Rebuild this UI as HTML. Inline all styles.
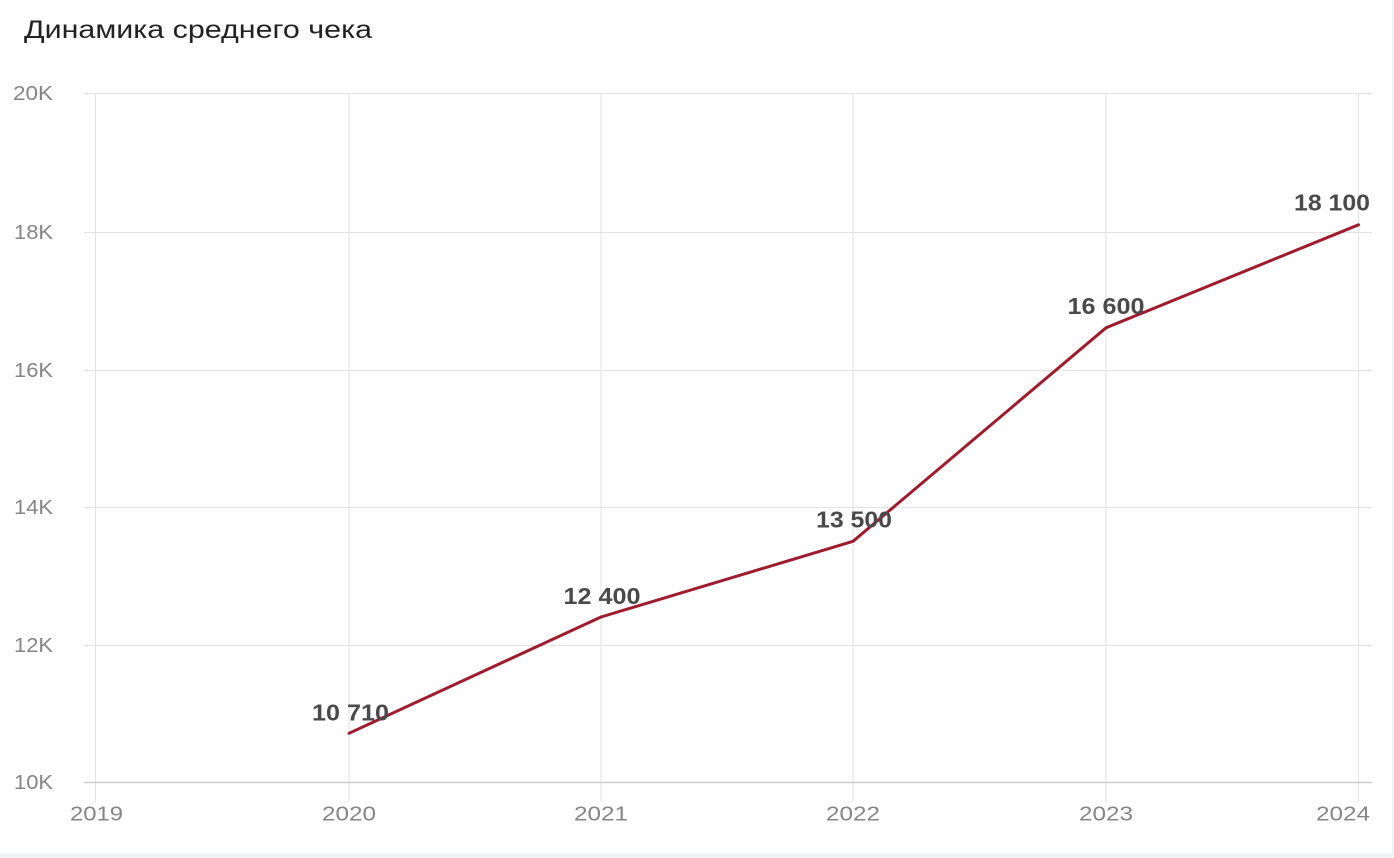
<!DOCTYPE html>
<html>
<head>
<meta charset="utf-8">
<style>
  html, body { margin: 0; padding: 0; }
  body { width: 1394px; height: 858px; background: #f2f3f5; overflow: hidden; }
  svg { display: block; }
</style>
</head>
<body>
<svg width="1394" height="858" viewBox="0 0 1394 858" xmlns="http://www.w3.org/2000/svg">
  <rect x="0" y="0" width="1392" height="853" fill="#ffffff"/>
  <text x="24" y="38" font-family="Liberation Sans, DejaVu Sans, sans-serif" font-size="25" fill="#222222" textLength="348" lengthAdjust="spacingAndGlyphs">Динамика среднего чека</text>

  <!-- horizontal grid -->
  <g stroke="#e2e2e2" stroke-width="1">
    <line x1="84" y1="93.5" x2="1372" y2="93.5"/>
    <line x1="84" y1="232.5" x2="1372" y2="232.5"/>
    <line x1="84" y1="370.5" x2="1372" y2="370.5"/>
    <line x1="84" y1="507.5" x2="1372" y2="507.5"/>
    <line x1="84" y1="645.5" x2="1372" y2="645.5"/>
  </g>
  <!-- vertical grid -->
  <g stroke="#e2e2e2" stroke-width="1">
    <line x1="95.5" y1="93" x2="95.5" y2="802"/>
    <line x1="349" y1="93" x2="349" y2="802"/>
    <line x1="601" y1="93" x2="601" y2="802"/>
    <line x1="853" y1="93" x2="853" y2="802"/>
    <line x1="1106" y1="93" x2="1106" y2="802"/>
    <line x1="1358.5" y1="93" x2="1358.5" y2="802"/>
  </g>
  <line x1="84" y1="782.5" x2="1372" y2="782.5" stroke="#cccccc" stroke-width="1.5"/>

  <!-- y tick labels -->
  <g font-family="Liberation Sans, DejaVu Sans, sans-serif" font-size="20" fill="#858585" text-anchor="end">
    <text x="53" y="100" textLength="40" lengthAdjust="spacingAndGlyphs">20K</text>
    <text x="53" y="239" textLength="39" lengthAdjust="spacingAndGlyphs">18K</text>
    <text x="53" y="377" textLength="39" lengthAdjust="spacingAndGlyphs">16K</text>
    <text x="53" y="514" textLength="39" lengthAdjust="spacingAndGlyphs">14K</text>
    <text x="53" y="652" textLength="39" lengthAdjust="spacingAndGlyphs">12K</text>
    <text x="53" y="789" textLength="39" lengthAdjust="spacingAndGlyphs">10K</text>
  </g>

  <!-- x tick labels -->
  <g font-family="Liberation Sans, DejaVu Sans, sans-serif" font-size="20" fill="#858585" text-anchor="middle">
    <text x="96.5" y="820.5" textLength="53" lengthAdjust="spacingAndGlyphs">2019</text>
    <text x="349" y="820.5" textLength="54" lengthAdjust="spacingAndGlyphs">2020</text>
    <text x="601" y="820.5" textLength="54" lengthAdjust="spacingAndGlyphs">2021</text>
    <text x="853" y="820.5" textLength="54" lengthAdjust="spacingAndGlyphs">2022</text>
    <text x="1106" y="820.5" textLength="54" lengthAdjust="spacingAndGlyphs">2023</text>
    <text x="1343" y="820.5" textLength="54" lengthAdjust="spacingAndGlyphs">2024</text>
  </g>

  <!-- series -->
  <polyline points="349,733.3 601,617 853,541.3 1106,327.8 1358.5,224.8" fill="none" stroke="#9e1c2d" stroke-width="3" stroke-linejoin="round" stroke-linecap="round"/>

  <!-- data labels -->
  <g font-family="Liberation Sans, DejaVu Sans, sans-serif" font-size="23" font-weight="bold" fill="#4a4a4a" text-anchor="middle">
    <text x="350.5" y="720.5" textLength="77" lengthAdjust="spacingAndGlyphs">10 710</text>
    <text x="602" y="604" textLength="77" lengthAdjust="spacingAndGlyphs">12 400</text>
    <text x="854" y="527.5" textLength="76" lengthAdjust="spacingAndGlyphs">13 500</text>
    <text x="1106" y="314" textLength="77" lengthAdjust="spacingAndGlyphs">16 600</text>
    <text x="1332" y="210.5" textLength="76" lengthAdjust="spacingAndGlyphs">18 100</text>
  </g>
</svg>
</body>
</html>
